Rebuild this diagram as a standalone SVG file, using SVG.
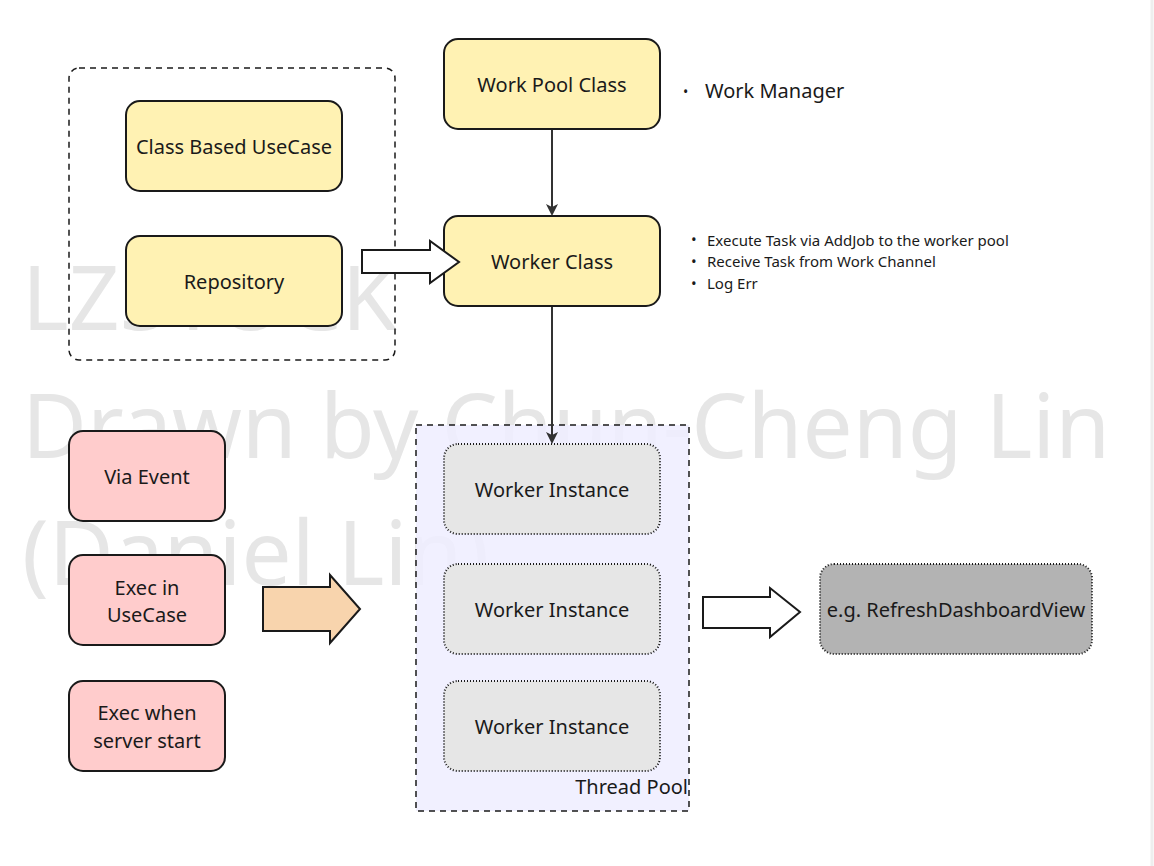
<svg xmlns="http://www.w3.org/2000/svg" width="1154" height="866" viewBox="0 0 1154 866">
<style>
text{font-family:"Noto Sans","Open Sans",sans-serif;fill:#1a1a1a}
.lbl{font-size:20px;text-anchor:middle;dominant-baseline:central}
.wm{font-size:89px;fill:#e6e6e6}
.y{fill:#fff2b3;stroke:#1a1a1a;stroke-width:2}
.p{fill:#ffcccc;stroke:#1a1a1a;stroke-width:2}
.g{fill:#e6e6e6;stroke:#1a1a1a;stroke-width:2;stroke-dasharray:1 2}
.sm{font-size:15px}
</style>
<defs>
<marker id="ah" markerWidth="12" markerHeight="12" refX="10" refY="6" orient="auto" markerUnits="userSpaceOnUse">
<path d="M0,0 L12,6 L0,12 L3,6 Z" fill="#333"/>
</marker>
</defs>
<rect width="1154" height="866" fill="#fff"/>
<line x1="1152" y1="0" x2="1152" y2="866" stroke="#eeeeee" stroke-width="3"/>
<g id="watermark">
<text class="wm" x="22" y="330">LZSTOCK</text>
<text class="wm" x="22" y="458">Drawn by Chun-Cheng Lin</text>
<text class="wm" x="22" y="585">(Daniel Lin)</text>
</g>
<g id="usecase-group">
<rect x="69" y="68" width="326" height="292" rx="10" fill="none" stroke="#1a1a1a" stroke-width="1.5" stroke-dasharray="6 5"/>
</g>
<g id="class-based-usecase">
<rect class="y" x="126" y="101" width="216" height="90" rx="14"/>
<text class="lbl" x="234" y="146">Class Based UseCase</text>
</g>
<g id="repository">
<rect class="y" x="126" y="236" width="216" height="90" rx="14"/>
<text class="lbl" x="234" y="281">Repository</text>
</g>
<g id="work-pool-class">
<rect class="y" x="444" y="39" width="216" height="90" rx="14"/>
<text class="lbl" x="552" y="84">Work Pool Class</text>
</g>
<g id="worker-class">
<rect class="y" x="444" y="216" width="216" height="90" rx="14"/>
<text class="lbl" x="552" y="261">Worker Class</text>
</g>
<g id="work-manager-note">
<text x="683" y="97" style="font-size:14px">•</text>
<text x="705" y="98" style="font-size:20px">Work Manager</text>
</g>
<g id="worker-notes">
<text class="sm" x="691" y="245">•</text><text class="sm" x="707" y="246">Execute Task via AddJob to the worker pool</text>
<text class="sm" x="691" y="267">•</text><text class="sm" x="707" y="267">Receive Task from Work Channel</text>
<text class="sm" x="691" y="289">•</text><text class="sm" x="707" y="289">Log Err</text>
</g>
<g id="thread-pool">
<rect x="416" y="425" width="273" height="386" fill="#efedff" fill-opacity="0.85" stroke="#1a1a1a" stroke-width="1.5" stroke-dasharray="6 5"/>
<text x="688" y="794" style="font-size:20px;text-anchor:end">Thread Pool</text>
</g>
<g id="worker-instance-1">
<rect class="g" x="444" y="444" width="216" height="90" rx="14"/>
<text class="lbl" x="552" y="489">Worker Instance</text>
</g>
<g id="worker-instance-2">
<rect class="g" x="444" y="564" width="216" height="90" rx="14"/>
<text class="lbl" x="552" y="609">Worker Instance</text>
</g>
<g id="worker-instance-3">
<rect class="g" x="444" y="681" width="216" height="90" rx="14"/>
<text class="lbl" x="552" y="726">Worker Instance</text>
</g>
<g id="via-event">
<rect class="p" x="69" y="431" width="156" height="90" rx="14"/>
<text class="lbl" x="147" y="476">Via Event</text>
</g>
<g id="exec-in-usecase">
<rect class="p" x="69" y="555" width="156" height="90" rx="14"/>
<text class="lbl" x="147" y="587">Exec in</text>
<text class="lbl" x="147" y="614">UseCase</text>
</g>
<g id="exec-when-server-start">
<rect class="p" x="69" y="681" width="156" height="90" rx="14"/>
<text class="lbl" x="147" y="712">Exec when</text>
<text class="lbl" x="147" y="740">server start</text>
</g>
<g id="refresh-dashboard">
<rect x="820" y="564" width="272" height="90" rx="14" fill="#b3b3b3" stroke="#1a1a1a" stroke-width="2" stroke-dasharray="1 2"/>
<text class="lbl" x="956" y="609">e.g. RefreshDashboardView</text>
</g>
<g id="connectors" stroke="#333" stroke-width="2" fill="none">
<line x1="552" y1="130" x2="552" y2="214" marker-end="url(#ah)"/>
<line x1="552" y1="307" x2="552" y2="442" marker-end="url(#ah)"/>
<path d="M362,250 L430,250 L430,241 L459,262 L430,283 L430,273 L362,273 Z" fill="#fff" stroke="#1a1a1a" stroke-width="2"/>
<path d="M263,587 L330,587 L330,575 L360,609 L330,643 L330,631 L263,631 Z" fill="#f8d4ad" stroke="#1a1a1a" stroke-width="2"/>
<path d="M703,597 L770,597 L770,588 L800,612 L770,637 L770,628 L703,628 Z" fill="#fff" stroke="#1a1a1a" stroke-width="2"/>
</g>
</svg>
